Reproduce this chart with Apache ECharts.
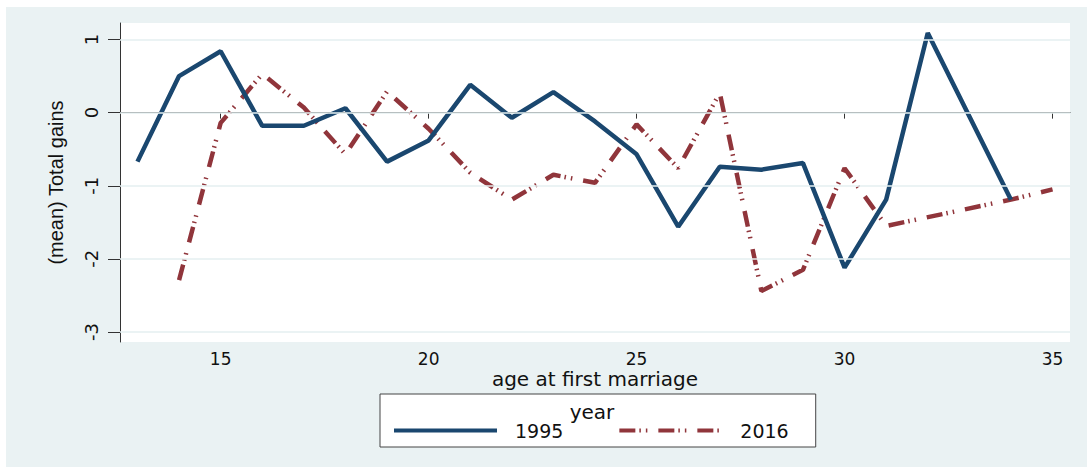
<!DOCTYPE html>
<html>
<head>
<meta charset="utf-8">
<script src="https://cdn.jsdelivr.net/npm/echarts@6/dist/echarts.min.js"></script>
<style>
  html, body { margin: 0; padding: 0; background: #ffffff; }
  #chart { position: absolute; left: 6px; top: 7px; width: 1081px; height: 460px; background: #eaf2f3; }
</style>
</head>
<body>
<div id="chart"></div>
<script>
// ---- data ----
const ages1995  = [13, 14, 15, 16, 17, 18, 19, 20, 21, 22, 23, 24, 25, 26, 27, 28, 29, 30, 31, 32, 34];
const gains1995 = [-0.67, 0.50, 0.84, -0.18, -0.18, 0.06, -0.67, -0.38, 0.38, -0.07, 0.28, -0.12, -0.57, -1.56, -0.74, -0.78, -0.69, -2.12, -1.19, 1.09, -1.19];
const ages2016  = [14, 15, 16, 17, 18, 19, 20, 21, 22, 23, 24, 25, 26, 27, 28, 29, 30, 31, 34, 35];
const gains2016 = [-2.29, -0.14, 0.53, 0.07, -0.57, 0.29, -0.22, -0.82, -1.19, -0.85, -0.96, -0.16, -0.76, 0.27, -2.44, -2.15, -0.76, -1.55, -1.19, -1.05];
const xTicks = [15, 20, 25, 30, 35];
const yTicks = [-3, -2, -1, 0, 1];
const seriesNames = ['1995', '2016'];
const legendTitle = 'year';
const xTitle = 'age at first marriage';
const yTitle = '(mean) Total gains';

const pairs = (xs, ys) => xs.map((x, i) => [x, ys[i]]);
const dash2016 = [16, 4, 1.5, 5, 1.5, 11];

const chart = echarts.init(document.getElementById('chart'), null, { renderer: 'svg' });
chart.setOption({
  animation: false,
  backgroundColor: '#eaf2f3',
  grid: {
    show: true, backgroundColor: '#ffffff', borderWidth: 0,
    left: 114, top: 16, right: 17, bottom: 125
  },
  xAxis: {
    type: 'value', min: 12.58, max: 35.42,
    name: xTitle, nameLocation: 'middle', nameGap: 27, nameMoveOverlap: false,
    nameTextStyle: { fontFamily: 'DejaVu Sans', fontSize: 20, color: '#111', lineHeight: 20 },
    axisLine: { show: true, lineStyle: { color: '#333', width: 1 } },
    axisTick: { show: true, length: 6, lineStyle: { color: '#333' }, customValues: xTicks },
    axisLabel: { customValues: xTicks, margin: 8, fontFamily: 'DejaVu Sans', fontSize: 17, lineHeight: 17, color: '#111' },
    splitLine: { show: false }
  },
  yAxis: {
    type: 'value', min: -3.137, max: 1.226,
    name: yTitle, nameLocation: 'middle', nameGap: 54, nameRotate: 90, nameMoveOverlap: false,
    nameTextStyle: { fontFamily: 'Liberation Sans', fontSize: 20, color: '#111' },
    axisLine: { show: true, lineStyle: { color: '#333', width: 1 } },
    axisTick: { show: true, length: 12, lineStyle: { color: '#333' }, customValues: yTicks },
    axisLabel: { customValues: yTicks, rotate: 90, margin: 20, fontFamily: 'DejaVu Sans', fontSize: 18, color: '#111' },
    splitLine: { show: false }
  },
  legend: {
    data: seriesNames,
    left: 374, top: 387,
    padding: [27, 27, 7, 12],
    backgroundColor: '#ffffff', borderColor: '#444', borderWidth: 1,
    itemWidth: 103, itemHeight: 14, itemGap: 54,
    itemStyle: { opacity: 0 },
    lineStyle: { width: 4 },
    textStyle: { fontFamily: 'DejaVu Sans', fontSize: 19, color: '#111', padding: [0, 0, 0, 13] }
  },
  graphic: [{
    type: 'text', x: 586, y: 405, z: 100,
    style: { text: legendTitle, textAlign: 'center', textVerticalAlign: 'middle', font: '20px "DejaVu Sans"', fill: '#111' }
  }],
  series: [
    {
      name: 'gridlines', type: 'line', data: [], z: 1, silent: true,
      markLine: {
        silent: true, symbol: 'none', animation: false,
        label: { show: false },
        lineStyle: { color: '#e4eff1', width: 1.5, type: 'solid' },
        data: yTicks.map(v => ({ yAxis: v }))
      }
    },
    {
      name: seriesNames[0], type: 'line', z: 3,
      data: pairs(ages1995, gains1995),
      showSymbol: false, symbol: 'none',
      lineStyle: { color: '#1a476f', width: 4.5, type: 'solid' },
      itemStyle: { color: '#1a476f' }
    },
    {
      name: seriesNames[1], type: 'line', z: 2,
      data: pairs(ages2016, gains2016),
      showSymbol: false, symbol: 'none',
      lineStyle: { color: '#90353b', width: 4.5, type: dash2016 },
      itemStyle: { color: '#90353b' }
    }
  ]
});
</script>
</body>
</html>
